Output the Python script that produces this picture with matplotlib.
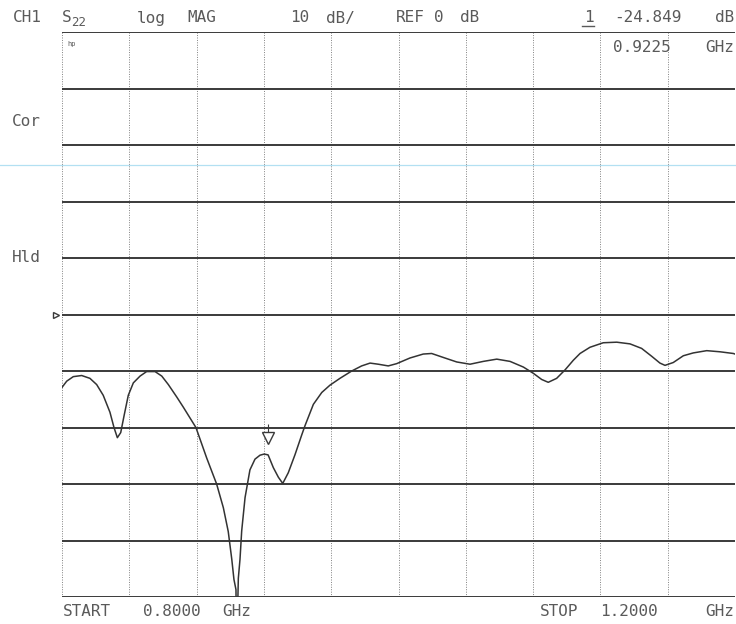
import matplotlib
matplotlib.use("Agg")
import matplotlib.pyplot as plt
import matplotlib.transforms as mtransforms

# S22 log magnitude sweep, 0.8 - 1.2 GHz
freq_ghz = [0.8000, 0.8028, 0.8067, 0.8117, 0.8166, 0.8206, 0.8245, 0.8285,
            0.8309, 0.8329, 0.8349, 0.8369, 0.8394, 0.8424, 0.8464, 0.8503,
            0.8553, 0.8593, 0.8632, 0.8682, 0.8721, 0.8796, 0.8860, 0.8919,
            0.8959, 0.8988, 0.9009, 0.9022, 0.9034, 0.9038, 0.9048, 0.9058,
            0.9068, 0.9088, 0.9117, 0.9147, 0.9177, 0.9202, 0.9225, 0.9256,
            0.9286, 0.9312, 0.9345, 0.9385, 0.9425, 0.9444, 0.9494, 0.9544,
            0.9593, 0.9652, 0.9722, 0.9781, 0.9831, 0.9880, 0.9939, 0.9989,
            1.0068, 1.0147, 1.0197, 1.0266, 1.0346, 1.0425, 1.0504, 1.0584,
            1.0663, 1.0742, 1.0801, 1.0851, 1.0890, 1.0940, 1.0990, 1.1039,
            1.1079, 1.1138, 1.1217, 1.1297, 1.1376, 1.1445, 1.1505, 1.1554,
            1.1584, 1.1633, 1.1693, 1.1752, 1.1832, 1.1911, 1.1990, 1.2000]
s22_db = [-12.9, -11.8, -11.0, -10.8, -11.3, -12.4, -14.3, -17.3,
          -20.0, -21.8, -20.9, -17.9, -14.3, -12.1, -10.9, -10.1,
          -10.1, -10.9, -12.4, -14.6, -16.4, -20.0, -25.4, -30.0,
          -34.2, -38.4, -43.3, -46.9, -48.7, -60.0, -46.7, -43.3,
          -38.3, -32.4, -27.5, -25.6, -24.9, -24.7, -24.849, -27.1,
          -28.8, -29.9, -28.0, -24.8, -21.3, -19.7, -15.9, -13.8,
          -12.5, -11.3, -10.0, -9.1, -8.6, -8.8, -9.1, -8.7,
          -7.7, -7.0, -6.9, -7.6, -8.4, -8.8, -8.3, -7.9,
          -8.3, -9.3, -10.4, -11.5, -12.0, -11.3, -9.8, -8.1,
          -6.9, -5.8, -5.0, -4.9, -5.2, -6.0, -7.4, -8.6,
          -9.0, -8.5, -7.3, -6.8, -6.4, -6.6, -6.9, -7.0]

marker_freq = 0.9225
marker_db = -24.849
start_ghz, stop_ghz = 0.8, 1.2
ref_db, scale_db = 0.0, 10.0

W, H = 736, 624
fig = plt.figure(figsize=(W / 100, H / 100), dpi=100)
fig.patch.set_facecolor("white")

left, right, top, bottom = 62, 735, 32, 597
ax = fig.add_axes([left / W, 1 - bottom / H, (right - left) / W, (bottom - top) / H])
ax.set_xlim(start_ghz, stop_ghz)
ax.set_ylim(ref_db - 5 * scale_db, ref_db + 5 * scale_db)
for s in ax.spines.values():
    s.set_visible(False)
ax.set_xticks([])
ax.set_yticks([])

ink = "#3a3a3a"
# graticule: dotted verticals, solid horizontals
for i in range(11):
    fx = start_ghz + i * (stop_ghz - start_ghz) / 10
    ax.axvline(fx, color="#808080", lw=0.7, ls=(0, (1, 1.5)))
for j in range(11):
    ax.axhline(ref_db - 50 + j * scale_db, color=ink, lw=1.4)

# trace
ax.plot(freq_ghz, s22_db, color="#333333", lw=1.1, solid_joinstyle="round")

# marker 1 symbol above the trace
off = mtransforms.offset_copy(ax.transData, fig=fig, x=0, y=17, units="dots")
ax.plot([marker_freq], [marker_db], marker="v", ms=8, mfc="white",
        mec=ink, mew=1.0, transform=off)
off2 = mtransforms.offset_copy(ax.transData, fig=fig, x=0, y=27, units="dots")
ax.plot([marker_freq], [marker_db], marker="|", ms=6, color=ink, mew=0.8,
        transform=off2)

# reference level pointer
ax.plot([start_ghz], [ref_db], marker=">", ms=5, mfc="white", mec=ink,
        mew=1.0, clip_on=False,
        transform=mtransforms.offset_copy(ax.transData, fig=fig, x=-6, y=0,
                                          units="dots"))

# scanner streak
fig.add_artist(plt.Line2D([0, 1], [1 - 165 / H, 1 - 165 / H],
                          color="#b3e0f2", lw=0.9, transform=fig.transFigure))

mono = "DejaVu Sans Mono"
tc = "#5a5a5a"


def put(x, y, s, size=11.5, ha="left"):
    fig.text(x / W, 1 - y / H, s, fontsize=size, family=mono, color=tc,
             ha=ha, va="center")


# header line
put(13, 18, "CH1")
put(62, 18, "S")
put(71, 23, "22", size=9)
put(137, 18, "log")
put(187, 18, "MAG")
put(290, 18, "10")
put(326, 18, "dB/")
put(396, 18, "REF")
put(434, 18, "0")
put(460, 18, "dB")
put(584, 18, "1")
fig.add_artist(plt.Line2D([582 / W, 594 / W], [1 - 26 / H, 1 - 26 / H],
                          color=tc, lw=1.0, transform=fig.transFigure))
put(614, 18, "-24.849")
put(734, 18, "dB", ha="right")
put(613, 47, "0.9225")
put(734, 47, "GHz", ha="right")
put(67, 44, "hp", size=5)

# side annotations
put(12, 121, "Cor")
put(12, 258, "Hld")

# footer
put(63, 611, "START")
put(143, 611, "0.8000")
put(222, 611, "GHz")
put(540, 611, "STOP")
put(600, 611, "1.2000")
put(734, 611, "GHz", ha="right")

fig.savefig("out.png", dpi=100, facecolor="white")
